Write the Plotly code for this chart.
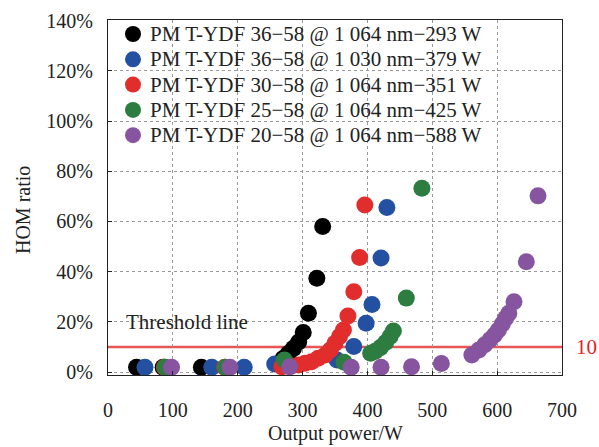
import plotly.graph_objects as go

# ---- data ----
series_names = [
    "PM T-YDF 36\u221258 @ 1 064 nm\u2212293 W",
    "PM T-YDF 36\u221258 @ 1 030 nm\u2212379 W",
    "PM T-YDF 30\u221258 @ 1 064 nm\u2212351 W",
    "PM T-YDF 25\u221258 @ 1 064 nm\u2212425 W",
    "PM T-YDF 20\u221258 @ 1 064 nm\u2212588 W",
]

black_x = [44, 85, 144, 270, 278, 286, 294, 301, 309, 322, 331]
black_y = [2, 2, 2, 5.5, 7.5, 9.5, 12, 15.8, 23.5, 37.4, 58]

blue_x = [57, 160, 210, 257, 353, 379, 398, 407, 421, 430]
blue_y = [2, 2, 2, 3.3, 4.9, 10.2, 19.5, 27, 45.5, 65.6]

red_x = [87, 180, 268, 283, 294, 304, 314, 324, 335, 343, 350, 357, 363, 370, 379, 388, 396]
red_y = [2, 2, 2.2, 2.5, 2.9, 3.6, 4.2, 5.6, 6.9, 8.9, 11.5, 14.2, 16.8, 22.4, 32, 45.7, 66.6]

green_x = [88, 181, 272, 364, 405, 412, 420, 428, 435, 440, 460, 484]
green_y = [2, 2, 4.9, 4, 7.6, 8.4, 9.8, 11.8, 14.2, 16.4, 29.5, 73.2]

purple_x = [98, 188, 280, 375, 421, 468, 514, 561, 572, 581, 589, 596, 602, 608, 613, 618, 626, 645, 663]
purple_y = [2, 2, 2.2, 2, 2, 2.2, 3.5, 6.9, 8.9, 10.9, 12.9, 14.8, 16.8, 19.2, 21.5, 23.5, 28.1, 44, 70.2]

threshold_value = 10
x_ticks = [0, 100, 200, 300, 400, 500, 600, 700]
y_ticks = [0, 20, 40, 60, 80, 100, 120, 140]
y_tick_labels = ["0%", "20%", "40%", "60%", "80%", "100%", "120%", "140%"]

colors = ["#000000", "rgb(35,80,160)", "rgb(226,45,45)", "rgb(45,125,65)", "rgb(135,85,160)"]
xs = [black_x, blue_x, red_x, green_x, purple_x]
ys = [black_y, blue_y, red_y, green_y, purple_y]

FONT = "Liberation Serif"
FS = 21
FS_AX = 20

W, H = 599, 447
ML, MR, MT, MB = 108, 37, 20, 72
PW, PH = W - ML - MR, H - MT - MB

fig = go.Figure()
for name, x, y, c in zip(series_names, xs, ys, colors):
    fig.add_trace(go.Scatter(
        x=x, y=y, mode="markers", name=name, showlegend=False,
        marker=dict(color=c, size=17, line=dict(width=0)),
    ))

# threshold line
fig.add_shape(type="line", xref="paper", x0=0, x1=1, yref="y",
              y0=threshold_value, y1=threshold_value,
              line=dict(color="rgb(232,85,85)", width=2.5), layer="between")

# legend box (white, hides grid), entries as circle + text
fig.add_shape(type="rect", xref="paper", yref="paper",
              x0=0.002, x1=(490 - ML) / PW, y0=(H - MB - 148) / PH, y1=0.998,
              fillcolor="white", line=dict(width=0), layer="between")
for i, (name, c) in enumerate(zip(series_names, colors)):
    py = 34 + i * 25.3
    yp = (H - MB - py) / PH
    fig.add_shape(type="circle", xref="paper", yref="paper",
                  xsizemode="pixel", ysizemode="pixel",
                  xanchor=(133 - ML) / PW, yanchor=yp,
                  x0=-8, x1=8, y0=-8, y1=8,
                  fillcolor=c, line=dict(width=0), layer="above")
    fig.add_annotation(x=(148 - ML) / PW, y=yp, xref="paper", yref="paper",
                       text=name, showarrow=False, xanchor="left", yanchor="middle",
                       font=dict(family=FONT, size=FS, color="#222"))

fig.add_annotation(x=122, y=20, xref="x", yref="y", text="Threshold line",
                   showarrow=False, font=dict(family=FONT, size=FS, color="#222"),
                   xanchor="center", yanchor="middle")
fig.add_annotation(x=1.055, y=threshold_value, xref="paper", yref="y", text=str(threshold_value),
                   showarrow=False, font=dict(family=FONT, size=FS, color="rgb(230,30,30)"),
                   xanchor="center", yanchor="middle")
fig.add_annotation(x=-0.187, y=0.465, xref="paper", yref="paper", text="HOM ratio",
                   showarrow=False, textangle=-90,
                   font=dict(family=FONT, size=FS_AX, color="#222"),
                   xanchor="center", yanchor="middle")
fig.add_annotation(x=0.5, y=-0.166, xref="paper", yref="paper", text="Output power/W",
                   showarrow=False, font=dict(family=FONT, size=FS_AX, color="#222"),
                   xanchor="center", yanchor="middle")

fig.update_layout(
    width=W, height=H,
    margin=dict(l=ML, r=MR, t=MT, b=MB, autoexpand=False),
    paper_bgcolor="white", plot_bgcolor="white",
    font=dict(family=FONT, size=FS_AX, color="#222"),
    showlegend=False,
    xaxis=dict(range=[0, 700], tickvals=x_ticks, ticks="inside", ticklen=4,
               tickcolor="#222", showline=True, linecolor="#222", linewidth=1.2,
               mirror=True, showgrid=True, gridcolor="#999", griddash="dot",
               gridwidth=1, zeroline=False, ticklabelstandoff=17, automargin=False,
               tickfont=dict(family=FONT, size=FS_AX, color="#222")),
    yaxis=dict(range=[-1.1, 140.2], tickvals=y_ticks, ticktext=y_tick_labels,
               ticks="inside", ticklen=4, tickcolor="#222",
               showline=True, linecolor="#222", linewidth=1.2, mirror=True,
               showgrid=True, gridcolor="#999", griddash="dot", gridwidth=1,
               zeroline=False, ticklabelstandoff=10, automargin=False,
               tickfont=dict(family=FONT, size=FS_AX, color="#222")),
)

# remove the browser's default 8px page margin so the figure fills the window
fig.write_html("out.html", config={"displayModeBar": False},
               post_script="document.body.style.margin='0';")
